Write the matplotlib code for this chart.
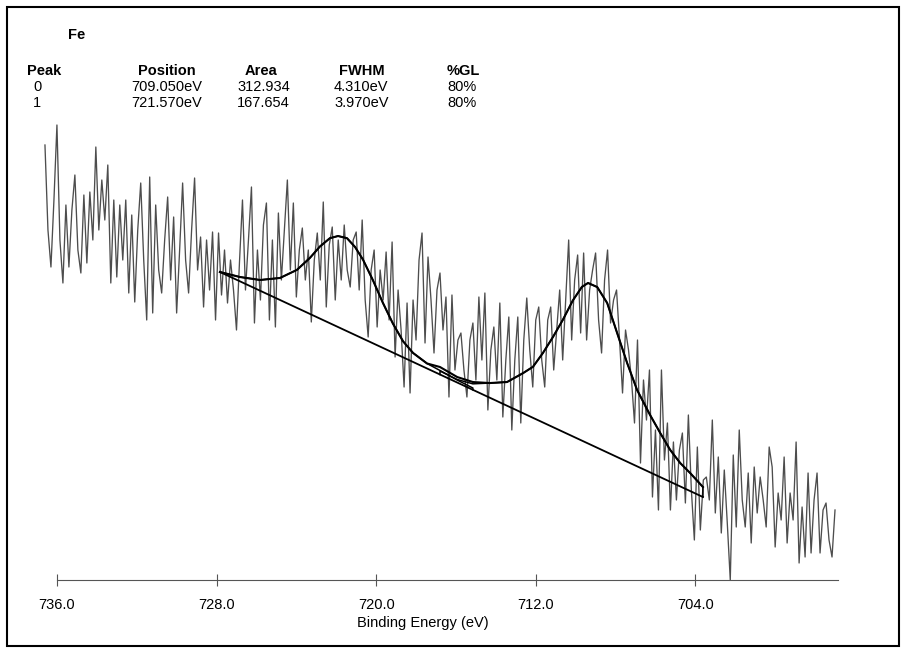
import matplotlib
matplotlib.use("Agg")
import matplotlib.pyplot as plt
from matplotlib.patches import Rectangle
import numpy as np

plt.rcParams['font.family'] = ['Liberation Sans', 'DejaVu Sans']

# Raw Fe 2p spectrum, 0.15 eV steps from 736.6 eV down
start_energy = 736.6
step_energy = 0.15
counts = [
    435, 350, 313, 380, 455, 340, 297, 375, 313, 370,
    405, 330, 307, 385, 317, 388, 340, 433, 350, 400,
    360, 415, 297, 380, 303, 375, 320, 380, 287, 365,
    278, 350, 397, 320, 260, 403, 267, 375, 310, 287,
    340, 383, 300, 363, 267, 330, 397, 320, 287, 350,
    402, 310, 343, 273, 340, 290, 348, 260, 347, 285,
    330, 277, 320, 290, 250, 318, 380, 290, 340, 393,
    257, 330, 280, 355, 377, 260, 340, 253, 367, 300,
    350, 400, 310, 377, 283, 330, 352, 300, 330, 258,
    320, 347, 300, 378, 273, 335, 353, 280, 340, 300,
    355, 310, 293, 340, 348, 290, 360, 280, 243, 310,
    330, 253, 310, 280, 328, 260, 338, 223, 290, 250,
    193, 277, 187, 280, 240, 320, 347, 237, 323, 280,
    227, 290, 307, 250, 283, 183, 285, 210, 240, 247,
    210, 183, 240, 257, 200, 283, 220, 287, 170, 230,
    253, 200, 277, 163, 220, 263, 150, 220, 263, 157,
    240, 282, 230, 193, 260, 273, 220, 193, 260, 273,
    210, 250, 290, 220, 280, 340, 240, 300, 325, 247,
    327, 240, 290, 310, 327, 260, 227, 300, 330, 257,
    280, 290, 240, 187, 250, 230, 200, 157, 240, 117,
    200, 160, 210, 83, 150, 70, 210, 120, 157, 70,
    138, 80, 130, 147, 77, 165, 90, 40, 133, 50,
    100, 103, 80, 160, 67, 123, 47, 110, 57, 0,
    125, 53, 150, 80, 53, 107, 37, 113, 67, 103,
    80, 53, 133, 113, 33, 87, 60, 123, 37, 87,
    60, 138, 17, 73, 23, 107, 27, 80, 107, 27,
    70, 77, 40, 23, 70,
]
energy = start_energy - step_energy * np.arange(len(counts))

# linear background end points
bg_energy = [727.83, 703.62]
bg_counts = [308, 83]

# fitted components, height above background
fit_energy = [727.83, 726.83, 725.82, 724.82, 723.97, 723.32, 722.82, 722.32,
              721.91, 721.46, 721.06, 720.66, 720.16, 719.66, 719.16, 718.65,
              718.15, 717.45, 716.80, 715.94, 715.15, 714.30, 713.44, 712.64,
              712.14, 711.64, 711.14, 710.64, 710.14, 709.69, 709.38, 708.92,
              708.42, 707.92, 707.42, 706.92, 706.27, 705.76, 705.26, 704.76,
              704.26, 703.62]
nan = np.nan
peak1_height = [0, 4.3, 10.7, 22, 38, 56, 72, 85, 91, 93, 88, 79, 63, 45, 29,
                16, 9, 5, 4, 2.5, 1.8] + [nan] * 21
peak0_height = [nan] * 18 + [3.5, 3, 6, 14.7, 23.7, 40, 51, 69.5, 90, 112,
                             136, 153.6, 160.5, 160.7, 149.4, 124, 98.7, 76.3,
                             57.4, 44.1, 31.8, 23.4, 18, 10]

# table text
peak_ids = ['0', '1']
positions = ['709.050eV', '721.570eV']
areas = ['312.934', '167.654']
fwhms = ['4.310eV', '3.970eV']
gls = ['80%', '80%']

W, H = 903, 650
fig = plt.figure(figsize=(W / 100, H / 100), dpi=100)
ax = fig.add_axes([30 / W, 70 / H, 810 / W, 470 / H])
ax.set_xlim(737.35, 696.75)
ax.set_ylim(0, 470)

ax.plot(energy, counts, color='#4d4d4d', lw=0.95)

fe = np.array(fit_energy)
base = np.interp(fe, bg_energy[::-1], bg_counts[::-1])
p1 = np.array(peak1_height)
p0 = np.array(peak0_height)
envelope = base + np.nan_to_num(p1) + np.nan_to_num(p0)

ax.plot(bg_energy, bg_counts, color='black', lw=1.3)
for h in (p1, p0):
    ok = ~np.isnan(h)
    e = np.concatenate(([fe[ok][0]], fe[ok], [fe[ok][-1]]))
    y = np.concatenate(([base[ok][0]], base[ok] + h[ok], [base[ok][-1]]))
    ax.plot(e, y, color='black', lw=1.1)
ax.plot(fe, envelope, color='black', lw=1.5)

for s in ['left', 'top', 'right']:
    ax.spines[s].set_visible(False)
ax.spines['bottom'].set_bounds(736.0, 696.85)
ax.spines['bottom'].set_color('#555555')
ax.set_yticks([])
ticks = [736.0, 728.0, 720.0, 712.0, 704.0]
ax.set_xticks(ticks)
ax.set_xticklabels(['%.1f' % t for t in ticks])
ax.tick_params(axis='x', direction='inout', length=8, width=0.8,
               color='#555555', labelsize=10.5, pad=9)


def fpos(x, y):
    return x / W, 1 - y / H


fig.text(*fpos(423, 623), 'Binding Energy (eV)', fontsize=10.5,
         ha='center', va='center')

fig.text(*fpos(68, 35), 'Fe', fontsize=10.5, weight='bold', va='center')
heads = [('Peak', 27), ('Position', 138), ('Area', 245), ('FWHM', 339), ('%GL', 447)]
for label, x in heads:
    fig.text(*fpos(x, 71), label, fontsize=10.5, weight='bold', va='center')
cols = [(peak_ids, 33), (positions, 131), (areas, 237), (fwhms, 334), (gls, 447)]
for row, y in enumerate([87, 103]):
    for values, x in cols:
        fig.text(*fpos(x, y), values[row], fontsize=10.5, va='center')

fig.add_artist(Rectangle((7 / W, 4 / H), 892 / W, 639 / H, fill=False,
                         lw=1.5, color='black', transform=fig.transFigure))

fig.savefig('out.png', dpi=100)
